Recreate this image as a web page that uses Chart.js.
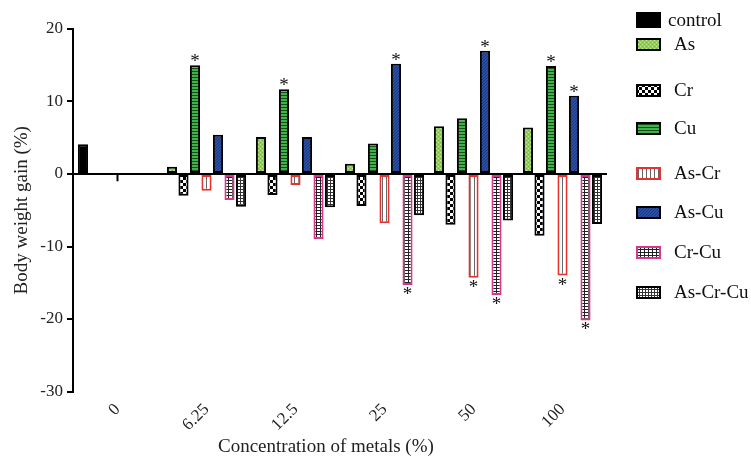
<!DOCTYPE html>
<html><head><meta charset="utf-8">
<script src="https://cdn.jsdelivr.net/npm/chart.js@4.4.0/dist/chart.umd.min.js"></script>
<style>
html,body{margin:0;padding:0;background:#fff;}
#wrap{position:relative;width:751px;height:459px;}
#legend{position:absolute;left:636px;top:0;font-family:"Liberation Serif","Times New Roman",serif;font-size:19px;color:#111;}
.item{position:absolute;left:0;height:24px;display:flex;align-items:center;white-space:nowrap;}
.item canvas{display:block;}
#xtitle{position:absolute;left:218px;top:434px;white-space:nowrap;font-family:"Liberation Serif","Times New Roman",serif;font-size:19px;line-height:23px;color:#222;}
</style></head><body>
<div id="wrap"><canvas id="c" width="751" height="459"></canvas><div id="xtitle">Concentration of metals (%)</div><div id="legend"></div></div>
<script>
// ---- data ----
const concentrations = ['0', '6.25', '12.5', '25', '50', '100'];
const seriesNames = ['control', 'As', 'Cr', 'Cu', 'As-Cr', 'As-Cu', 'Cr-Cu', 'As-Cr-Cu'];
const controlGain = [4.1, null, null, null, null, null];
const asGain      = [0, 1.0, 5.1, 1.4, 6.6, 6.4];
const crGain      = [0, -3.0, -2.9, -4.4, -7.0, -8.5];
const cuGain      = [0, 15.0, 11.7, 4.2, 7.7, 14.9];
const asCrGain    = [0, -2.3, -1.5, -6.8, -14.3, -14.0];
const asCuGain    = [0, 5.4, 5.1, 15.2, 17.0, 10.8];
const crCuGain    = [0, -3.6, -9.0, -15.3, -16.7, -20.2];
const asCrCuGain  = [null, -4.5, -4.6, -5.7, -6.4, -6.9];
// error bar visible in the figure (only one)
const cuSd        = [1.0, null, null, null, null, null];
// significance marks (*)
const cuSig   = [0, 1, 1, 0, 0, 1];
const asCrSig = [0, 0, 0, 0, 1, 1];
const asCuSig = [0, 0, 0, 1, 1, 1];
const crCuSig = [0, 0, 0, 1, 1, 1];
const yTicks = [-30, -20, -10, 0, 10, 20];

// ---- pattern tiles ----
function tile(w, h, draw) { const c = document.createElement('canvas'); c.width = w; c.height = h; const g = c.getContext('2d'); draw(g); return c; }
const tiles = {
  control: null,
  As: tile(4, 4, g => { g.fillStyle = '#8fd150'; g.fillRect(0,0,4,4); g.fillStyle = '#c6ec98'; g.fillRect(0,0,1,1); g.fillRect(2,2,1,1); g.fillStyle = '#74b83c'; g.fillRect(2,0,1,1); g.fillRect(0,2,1,1); }),
  Cr: tile(6, 6, g => { g.fillStyle = '#fff'; g.fillRect(0,0,6,6); g.fillStyle = '#000'; g.fillRect(0,0,3,3); g.fillRect(3,3,3,3); }),
  Cu: tile(3, 3, g => { g.fillStyle = '#3fb34a'; g.fillRect(0,0,3,3); g.fillStyle = '#1b4a1d'; g.fillRect(0,2,3,1); }),
  'As-Cr': tile(4, 4, g => { g.fillStyle = '#fff'; g.fillRect(0,0,4,4); g.fillStyle = '#666'; g.fillRect(2,0,1,4); }),
  'As-Cu': tile(3, 3, g => { g.fillStyle = '#2a50a6'; g.fillRect(0,0,3,3); g.fillStyle = '#1c3780'; g.fillRect(0,0,1,1); g.fillRect(2,1,1,1); g.fillRect(1,2,1,1); }),
  'Cr-Cu': tile(4, 3, g => { g.fillStyle = '#fff'; g.fillRect(0,0,4,3); g.fillStyle = '#222'; g.fillRect(0,0,4,1); g.fillRect(0,0,1,3); }),
  'As-Cr-Cu': tile(3, 3, g => { g.fillStyle = '#fff'; g.fillRect(0,0,3,3); g.fillStyle = '#333'; g.fillRect(0,0,3,1); g.fillRect(0,0,1,3); })
};
const borders = { control: '#000', As: '#000', Cr: '#000', Cu: '#000', 'As-Cr': '#e8312c', 'As-Cu': '#000', 'Cr-Cu': '#d9368b', 'As-Cr-Cu': '#000' };
function fillFor(ctx, name) { return tiles[name] ? ctx.createPattern(tiles[name], 'repeat') : '#000'; }

const canvas = document.getElementById('c');
const cctx = canvas.getContext('2d');
const seriesData = [controlGain, asGain, crGain, cuGain, asCrGain, asCuGain, crCuGain, asCrCuGain];
const seriesSig = [null, null, null, cuSig, asCrSig, asCuSig, crCuSig, null];
const seriesSd = [null, null, null, cuSd, null, null, null, null];

const datasets = seriesNames.map((name, i) => ({
  label: name,
  data: seriesData[i],
  sig: seriesSig[i],
  sd: seriesSd[i],
  backgroundColor: fillFor(cctx, name),
  borderColor: borders[name],
  borderWidth: 2,
  borderSkipped: false,
  categoryPercentage: 0.905,
  barPercentage: 0.88,
  skipNull: true
}));

const SERIF = '"Liberation Serif", "Times New Roman", serif';

const marksPlugin = {
  id: 'marks',
  afterDatasetsDraw(chart) {
    const ctx = chart.ctx;
    const yScale = chart.scales.y;
    ctx.save();
    chart.data.datasets.forEach((ds, di) => {
      const meta = chart.getDatasetMeta(di);
      meta.data.forEach((bar, i) => {
        const v = ds.data[i];
        if (v === null || v === undefined) return;
        if (ds.sd && ds.sd[i]) {
          const end = v > 0 ? v + ds.sd[i] : v - ds.sd[i];
          ctx.strokeStyle = '#000'; ctx.lineWidth = 2;
          ctx.beginPath(); ctx.moveTo(bar.x, bar.y); ctx.lineTo(bar.x, yScale.getPixelForValue(end)); ctx.stroke();
        }
        if (ds.sig && ds.sig[i]) {
          ctx.font = '19px ' + SERIF;
          ctx.fillStyle = '#111'; ctx.textAlign = 'center'; ctx.textBaseline = 'alphabetic';
          ctx.fillText('*', bar.x, v >= 0 ? bar.y + 2 : bar.y + 15);
        }
      });
    });
    ctx.restore();
  }
};

new Chart(canvas, {
  type: 'bar',
  data: { labels: concentrations, datasets },
  plugins: [marksPlugin],
  options: {
    responsive: false,
    animation: false,
    devicePixelRatio: 1,
    layout: { padding: { top: 29, right: 144, bottom: 0, left: 0 } },
    plugins: { legend: { display: false }, tooltip: { enabled: false } },
    scales: {
      x: {
        type: 'category',
        offset: true,
        grid: { display: false, drawTicks: false },
        border: { display: false },
        ticks: { minRotation: 45, maxRotation: 45, padding: 8, color: '#222', font: { family: SERIF, size: 17 } },
        title: { display: false, text: 'Concentration of metals (%)' },
        afterFit(scale) { scale.height = 67.5; }
      },
      y: {
        min: -30, max: 20,
        afterBuildTicks(scale) { scale.ticks = yTicks.map(v => ({ value: v })); },
        grid: {
          color: c => (c.tick && c.tick.value === 0) ? '#000' : 'rgba(0,0,0,0)',
          tickColor: '#000', lineWidth: 2, tickLength: 6, drawTicks: true
        },
        border: { display: true, color: '#000', width: 2 },
        ticks: { padding: 4, color: '#222', font: { family: SERIF, size: 17 } },
        title: { display: true, text: 'Body weight gain (%)', color: '#222', font: { family: SERIF, size: 19 }, padding: { top: 11, bottom: 0 } },
        afterFit(scale) { scale.width = 73; }
      }
    }
  }
});

// ---- legend (HTML, real text) ----
const legendCenters = [20, 44, 90, 128, 173, 212, 252, 292];
const legend = document.getElementById('legend');
seriesNames.forEach((name, i) => {
  const item = document.createElement('div');
  item.className = 'item';
  item.style.top = (legendCenters[i] - 12) + 'px';
  const sw = document.createElement('canvas');
  const isControl = name === 'control';
  sw.width = 25; sw.height = isControl ? 16 : 13;
  const g = sw.getContext('2d');
  g.fillStyle = fillFor(g, name); g.fillRect(0, 0, sw.width, sw.height);
  g.strokeStyle = borders[name]; g.lineWidth = 2; g.strokeRect(1, 1, sw.width - 2, sw.height - 2);
  const t = document.createElement('span');
  t.textContent = name;
  t.style.marginLeft = isControl ? '7px' : '13px';
  item.appendChild(sw); item.appendChild(t);
  legend.appendChild(item);
});
</script>
</body></html>
